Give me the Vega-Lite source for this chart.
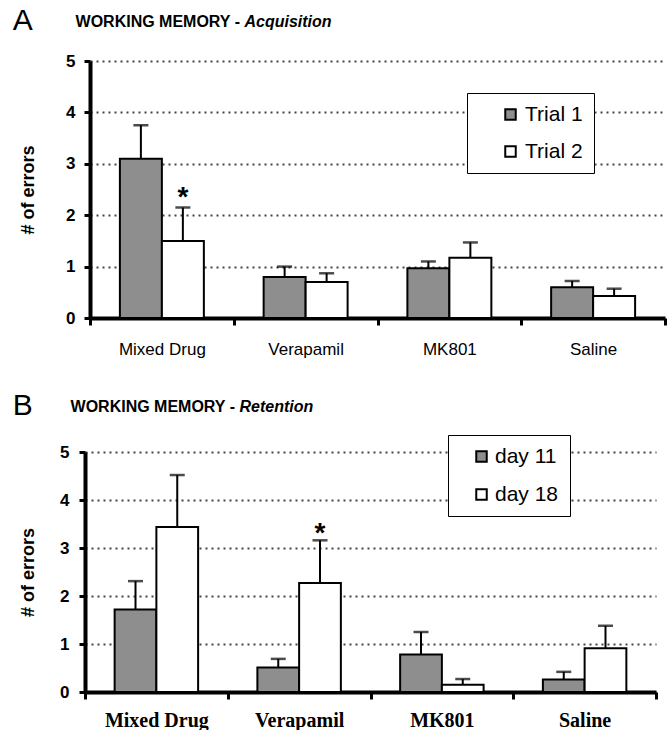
{
  "$schema": "https://vega.github.io/schema/vega-lite/v6.json",
  "background": "white",
  "padding": {"left": 12, "top": 6, "right": 5, "bottom": 0},
  "columns": 1,
  "spacing": 34,
  "resolve": {"scale": {"fill": "independent", "xOffset": "independent"}, "legend": {"fill": "independent"}},
  "config": {
    "view": {"stroke": null},
    "axis": {"domainColor": "black", "tickColor": "black", "labelColor": "black", "titleColor": "black"}
  },
  "datasets": {
    "acq": [
      {"group": "Mixed Drug", "series": "Trial 1", "value": 3.1, "upper": 3.75},
      {"group": "Mixed Drug", "series": "Trial 2", "value": 1.5, "upper": 2.15},
      {"group": "Verapamil", "series": "Trial 1", "value": 0.8, "upper": 1.0},
      {"group": "Verapamil", "series": "Trial 2", "value": 0.7, "upper": 0.87},
      {"group": "MK801", "series": "Trial 1", "value": 0.97, "upper": 1.1},
      {"group": "MK801", "series": "Trial 2", "value": 1.17, "upper": 1.47},
      {"group": "Saline", "series": "Trial 1", "value": 0.6, "upper": 0.72},
      {"group": "Saline", "series": "Trial 2", "value": 0.43, "upper": 0.57}
    ],
    "ret": [
      {"group": "Mixed Drug", "series": "day 11", "value": 1.72, "upper": 2.31},
      {"group": "Mixed Drug", "series": "day 18", "value": 3.44, "upper": 4.52},
      {"group": "Verapamil", "series": "day 11", "value": 0.51, "upper": 0.69},
      {"group": "Verapamil", "series": "day 18", "value": 2.27, "upper": 3.16},
      {"group": "MK801", "series": "day 11", "value": 0.78, "upper": 1.25},
      {"group": "MK801", "series": "day 18", "value": 0.15, "upper": 0.27},
      {"group": "Saline", "series": "day 11", "value": 0.26, "upper": 0.42},
      {"group": "Saline", "series": "day 18", "value": 0.91, "upper": 1.38}
    ],
    "acqStar": [{"group": "Mixed Drug", "series": "Trial 2", "star": 2.5}],
    "retStar": [{"group": "Verapamil", "series": "day 18", "star": 3.45}],
    "blank": [{}]
  },
  "concat": [
    {
      "title": {"text": "A", "anchor": "start", "frame": "bounds", "font": "Liberation Sans", "fontSize": 30, "fontWeight": "normal", "color": "black", "offset": -22},
      "spacing": 0,
      "hconcat": [
        {"width": 1, "height": 1, "data": {"name": "blank"}, "mark": {"type": "point", "opacity": 0}, "encoding": {}},
        {
          "width": 575,
          "height": 257,
          "title": {
            "text": "WORKING MEMORY -",
            "subtitle": "\u200b\u00a0\u00a0\u00a0\u00a0\u00a0\u00a0\u00a0\u00a0\u00a0\u00a0\u00a0\u00a0\u00a0\u00a0\u00a0\u00a0\u00a0\u00a0\u00a0\u00a0\u00a0\u00a0\u00a0\u00a0\u00a0\u00a0\u00a0\u00a0\u00a0\u00a0\u00a0\u00a0\u00a0\u00a0\u00a0\u00a0\u00a0\u00a0Acquisition",
            "anchor": "start", "frame": "bounds", "dx": 56,
            "font": "Liberation Sans", "fontSize": 16, "fontWeight": "bold", "color": "black",
            "subtitleFont": "Liberation Sans", "subtitleFontSize": 16, "subtitleFontWeight": "bold", "subtitleFontStyle": "italic", "subtitleColor": "black",
            "subtitlePadding": -16, "offset": 22
          },
          "data": {"name": "acq"},
          "encoding": {
            "x": {
              "field": "group", "type": "nominal",
              "sort": ["Mixed Drug", "Verapamil", "MK801", "Saline"],
              "scale": {"paddingInner": 0, "paddingOuter": 0},
              "axis": {
                "title": null, "labelAngle": 0, "tickBand": "extent",
                "labelFont": "Liberation Sans", "labelFontSize": 17, "labelPadding": 16,
                "tickSize": 7, "tickWidth": 3, "domainWidth": 4, "grid": false
              }
            },
            "xOffset": {"field": "series", "type": "nominal", "scale": {"paddingOuter": 0.712, "paddingInner": 0}}
          },
          "layer": [
            {
              "mark": {"type": "bar", "stroke": "black", "strokeWidth": 2},
              "encoding": {
                "y": {
                  "field": "value", "type": "quantitative",
                  "scale": {"domain": [0, 5]},
                  "axis": {
                    "title": "# of errors", "titleFont": "Liberation Sans", "titleFontSize": 18, "titleFontWeight": "bold", "titlePadding": 28,
                    "values": [0, 1, 2, 3, 4, 5], "format": "d",
                    "labelFont": "Liberation Sans", "labelFontSize": 17, "labelFontWeight": "bold", "labelPadding": 9,
                    "tickSize": 6, "tickWidth": 3, "domainWidth": 4,
                    "grid": true, "gridDash": [2, 4], "gridColor": "#444", "gridWidth": 2
                  }
                },
                "fill": {
                  "field": "series", "type": "nominal",
                  "scale": {"range": ["#8e8e8e", "#ffffff"]},
                  "legend": {
                    "title": null,
                    "orient": "none", "legendX": 452, "legendY": 32,
                    "strokeColor": "black", "fillColor": "white", "padding": 11, "symbolOffset": 22,
                    "symbolType": "square", "symbolSize": 110, "symbolStrokeColor": "black", "symbolStrokeWidth": 2,
                    "labelFont": "Liberation Sans", "labelFontSize": 21, "labelColor": "black", "rowPadding": 15, "labelOffset": 4
                  }
                }
              }
            },
            {
              "mark": {"type": "rule", "stroke": "black", "strokeWidth": 2},
              "encoding": {"y": {"field": "value", "type": "quantitative"}, "y2": {"field": "upper"}}
            },
            {
              "mark": {"type": "tick", "color": "black", "thickness": 2.5, "size": 15, "orient": "horizontal"},
              "encoding": {"y": {"field": "upper", "type": "quantitative"}}
            },
            {
              "data": {"name": "acqStar"},
              "mark": {"type": "text", "text": "*", "font": "Liberation Sans", "fontSize": 28, "fontWeight": "bold", "baseline": "middle", "dy": 8, "color": "black"},
              "encoding": {"y": {"field": "star", "type": "quantitative"}}
            }
          ]
        }
      ]
    },
    {
      "title": {"text": "B", "anchor": "start", "frame": "bounds", "font": "Liberation Sans", "fontSize": 30, "fontWeight": "normal", "color": "black", "offset": -22},
      "spacing": 0,
      "hconcat": [
        {"width": 1, "height": 1, "data": {"name": "blank"}, "mark": {"type": "point", "opacity": 0}, "encoding": {}},
        {
          "width": 571,
          "height": 240,
          "title": {
            "text": "WORKING MEMORY -",
            "subtitle": "\u200b\u00a0\u00a0\u00a0\u00a0\u00a0\u00a0\u00a0\u00a0\u00a0\u00a0\u00a0\u00a0\u00a0\u00a0\u00a0\u00a0\u00a0\u00a0\u00a0\u00a0\u00a0\u00a0\u00a0\u00a0\u00a0\u00a0\u00a0\u00a0\u00a0\u00a0\u00a0\u00a0\u00a0\u00a0\u00a0\u00a0\u00a0\u00a0Retention",
            "anchor": "start", "frame": "bounds", "dx": 51,
            "font": "Liberation Sans", "fontSize": 16, "fontWeight": "bold", "color": "black",
            "subtitleFont": "Liberation Sans", "subtitleFontSize": 16, "subtitleFontWeight": "bold", "subtitleFontStyle": "italic", "subtitleColor": "black",
            "subtitlePadding": -16, "offset": 28
          },
          "data": {"name": "ret"},
          "encoding": {
            "x": {
              "field": "group", "type": "nominal",
              "sort": ["Mixed Drug", "Verapamil", "MK801", "Saline"],
              "scale": {"paddingInner": 0, "paddingOuter": 0},
              "axis": {
                "title": null, "labelAngle": 0, "tickBand": "extent",
                "labelFont": "Liberation Serif", "labelFontSize": 20, "labelFontWeight": "bold", "labelPadding": 11,
                "tickSize": 7, "tickWidth": 3, "domainWidth": 4, "grid": false
              }
            },
            "xOffset": {"field": "series", "type": "nominal", "scale": {"paddingOuter": 0.71, "paddingInner": 0}}
          },
          "layer": [
            {
              "mark": {"type": "bar", "stroke": "black", "strokeWidth": 2},
              "encoding": {
                "y": {
                  "field": "value", "type": "quantitative",
                  "scale": {"domain": [0, 5]},
                  "axis": {
                    "title": "# of errors", "titleFont": "Liberation Sans", "titleFontSize": 18, "titleFontWeight": "bold", "titlePadding": 22,
                    "values": [0, 1, 2, 3, 4, 5], "format": "d",
                    "labelFont": "Liberation Sans", "labelFontSize": 17, "labelFontWeight": "bold", "labelPadding": 10,
                    "tickSize": 6, "tickWidth": 3, "domainWidth": 4,
                    "grid": true, "gridDash": [2, 4], "gridColor": "#444", "gridWidth": 2
                  }
                },
                "fill": {
                  "field": "series", "type": "nominal",
                  "scale": {"range": ["#8e8e8e", "#ffffff"]},
                  "legend": {
                    "title": null,
                    "orient": "none", "legendX": 433, "legendY": -17,
                    "strokeColor": "black", "fillColor": "white", "padding": 11, "symbolOffset": 12,
                    "symbolType": "square", "symbolSize": 110, "symbolStrokeColor": "black", "symbolStrokeWidth": 2,
                    "labelFont": "Liberation Sans", "labelFontSize": 21, "labelColor": "black", "rowPadding": 16, "labelOffset": 3
                  }
                }
              }
            },
            {
              "mark": {"type": "rule", "stroke": "black", "strokeWidth": 2},
              "encoding": {"y": {"field": "value", "type": "quantitative"}, "y2": {"field": "upper"}}
            },
            {
              "mark": {"type": "tick", "color": "black", "thickness": 2.5, "size": 15, "orient": "horizontal"},
              "encoding": {"y": {"field": "upper", "type": "quantitative"}}
            },
            {
              "data": {"name": "retStar"},
              "mark": {"type": "text", "text": "*", "font": "Liberation Sans", "fontSize": 28, "fontWeight": "bold", "baseline": "middle", "dy": 8, "color": "black"},
              "encoding": {"y": {"field": "star", "type": "quantitative"}}
            }
          ]
        }
      ]
    }
  ]
}
